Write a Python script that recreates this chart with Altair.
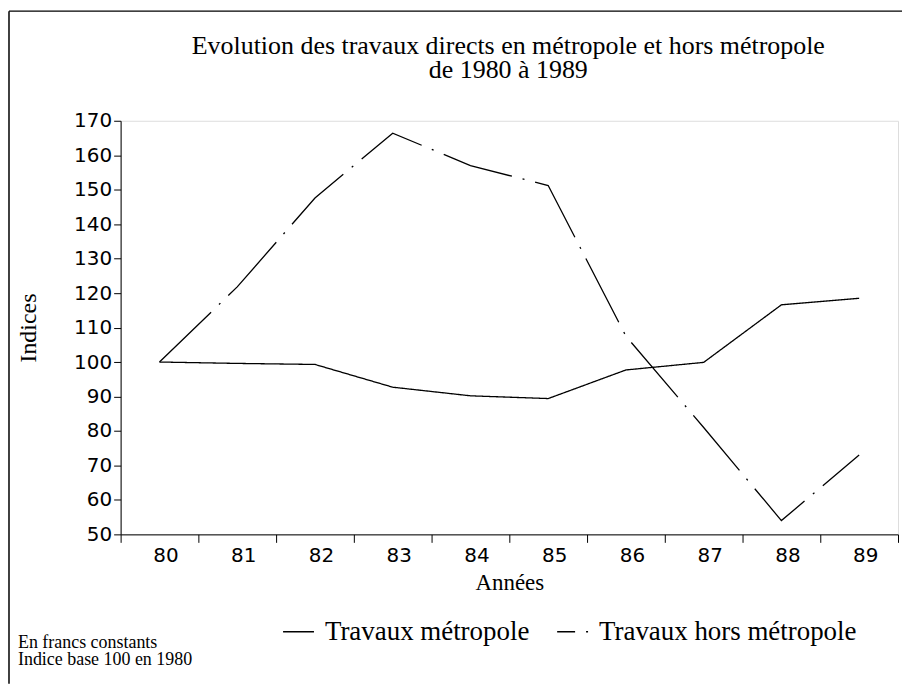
import altair as alt
import pandas as pd

years = ["80", "81", "82", "83", "84", "85", "86", "87", "88", "89"]
metropole = [100, 99.6, 99.3, 92.7, 90.2, 89.4, 97.7, 99.9, 116.6, 118.5]
hors_metropole = [100, 121.8, 147.6, 166.4, 157.0, 151.2, 107.5, 81.0, 54.0, 73.0]
series_names = ["Travaux métropole", "Travaux hors métropole"]
y_ticks = list(range(50, 171, 10))
title_lines = ["Evolution des travaux directs en métropole et hors métropole",
               "de 1980 à 1989"]
notes = ["En francs constants", "Indice base 100 en 1980"]

rows = []
for name, vals in zip(series_names, [metropole, hors_metropole]):
    for yr, v in zip(years, vals):
        rows.append({"year": yr, "value": v, "series": name})
df = pd.DataFrame(rows)

SERIF = "Liberation Serif"
SANS = "DejaVu Sans"
W, H = 780, 415

lines = alt.Chart(df).mark_line(color="black", strokeWidth=1.3, strokeCap="butt").encode(
    x=alt.X("year:N", sort=years, bandPosition=0.5,
            scale=alt.Scale(type="band", paddingInner=0, paddingOuter=0),
            axis=alt.Axis(title="Années", tickBand="extent", labelAngle=0,
                          labelFont=SANS, labelFontSize=20, labelColor="black",
                          labelPadding=3, labelOffset=6, tickSize=8, tickColor="black",
                          domainColor="black", titleFont=SERIF, titleFontSize=23,
                          titleFontWeight="normal", titleColor="black", titlePadding=6)),
    y=alt.Y("value:Q", scale=alt.Scale(domain=[50, 170], nice=False, zero=False),
            axis=alt.Axis(title="Indices", values=y_ticks, grid=False,
                          labelFont=SANS, labelFontSize=20, labelColor="black",
                          labelPadding=2, tickSize=7, tickColor="black",
                          domainColor="black", titleFont=SERIF, titleFontSize=24,
                          titleFontWeight="normal", titleColor="black", titlePadding=33)),
    strokeDash=alt.StrokeDash("series:N",
                              scale=alt.Scale(domain=series_names, range=[[1, 0], [72, 11, 2, 11]]),
                              legend=alt.Legend(title=None, orient="none", direction="horizontal",
                                                legendX=162, legendY=496, padding=0,
                                                symbolType="stroke",
                                                symbolSize=961, symbolStrokeWidth=1.5,
                                                symbolStrokeColor="black", symbolDashOffset=54,
                                                labelFont=SERIF, labelFontSize=27, labelColor="black",
                                                labelLimit=600, columnPadding=24, labelOffset=10)),
)

title_layer = alt.Chart(alt.Data(values=[{"t": 1}])).mark_text(
    text=title_lines, align="center", baseline="alphabetic", font=SERIF, fontSize=26,
    lineHeight=24, color="black"
).encode(x=alt.value(W / 2 - 1), y=alt.value(-67))

note_layer = alt.Chart(alt.Data(values=[{"t": 1}])).mark_text(
    text=notes, align="left", baseline="alphabetic", font=SERIF, fontSize=18,
    lineHeight=17, color="black"
).encode(x=alt.value(-103), y=alt.value(529))

frame_left = alt.Chart(alt.Data(values=[{"t": 1}])).mark_rule(color="black", strokeWidth=1.5).encode(
    x=alt.value(-112), y=alt.value(-110), y2=alt.value(H + 150))
frame_top = alt.Chart(alt.Data(values=[{"t": 1}])).mark_rule(color="black", strokeWidth=1.5).encode(
    x=alt.value(-112), x2=alt.value(W + 4), y=alt.value(-110))

chart = alt.layer(lines, title_layer, note_layer, frame_left, frame_top).properties(
    width=W, height=H,
    autosize=alt.AutoSizeParams(type="none"),
    padding={"left": 113, "top": 112, "right": 4, "bottom": 150},
).configure_view(stroke="black", strokeWidth=1).configure(background="white")

chart.save("out.html", embed_options={"renderer": "svg", "actions": False})
